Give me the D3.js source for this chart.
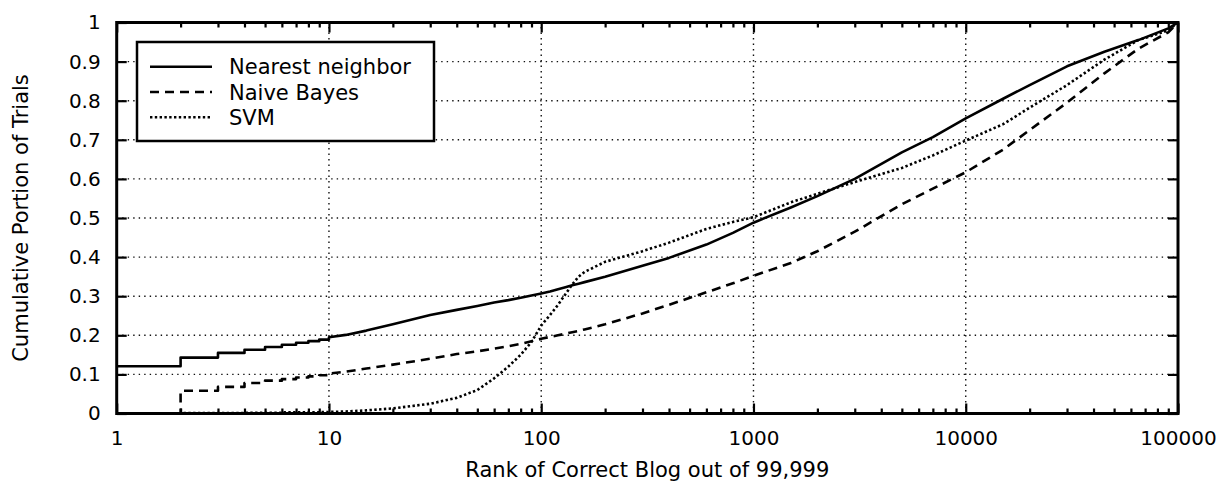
<!DOCTYPE html>
<html>
<head>
<meta charset="utf-8">
<script src="https://cdn.jsdelivr.net/npm/d3@7"></script>
<style>
    body { margin: 0; background: #fff; }
    text { font-family: "DejaVu Sans", sans-serif; fill: #000; }
</style>
</head>
<body>
<div id="chart"></div>
<script>

// ranks 1..10 are drawn as steps, the rest as a plain line
const stepRanks = [1, 2, 3, 4, 5, 6, 7, 8, 9, 10];
const nnStep  = [0.121, 0.143, 0.155, 0.163, 0.170, 0.176, 0.181, 0.185, 0.189, 0.195];
const nbStep  = [0, 0.058, 0.068, 0.078, 0.084, 0.088, 0.092, 0.095, 0.098, 0.102];
const svmStep = [0, 0.001, 0.001, 0.002, 0.002, 0.003, 0.003, 0.003, 0.004, 0.004];

const lineRanks = [10, 12, 15, 20, 30, 40, 50, 60, 70, 80, 90, 100, 110, 120, 130, 140, 150, 160,
    200, 300, 400, 600, 800, 1000, 1500, 2000, 3000, 5000, 7000, 10000, 15000, 20000, 30000,
    45000, 65000, 90000, 99999];
const nnLine = [0.195, 0.201, 0.212, 0.228, 0.252, 0.265, 0.275, 0.284, 0.290, 0.296, 0.302, 0.307,
    0.312, 0.318, 0.323, 0.328, 0.332, 0.336, 0.350, 0.378, 0.398, 0.432, 0.462, 0.488, 0.527,
    0.556, 0.600, 0.668, 0.707, 0.755, 0.805, 0.840, 0.888, 0.925, 0.955, 0.985, 1.0];
const nbLine = [0.102, 0.107, 0.115, 0.125, 0.140, 0.152, 0.159, 0.166, 0.172, 0.178, 0.185, 0.191,
    0.196, 0.200, 0.204, 0.208, 0.211, 0.215, 0.228, 0.256, 0.278, 0.310, 0.333, 0.352, 0.385,
    0.415, 0.465, 0.535, 0.575, 0.617, 0.675, 0.725, 0.795, 0.870, 0.933, 0.975, 1.0];
const svmLine = [0.004, 0.005, 0.008, 0.013, 0.025, 0.040, 0.060, 0.090, 0.120, 0.150, 0.183, 0.225,
    0.252, 0.278, 0.305, 0.330, 0.350, 0.362, 0.388, 0.415, 0.437, 0.472, 0.490, 0.502, 0.540,
    0.562, 0.592, 0.628, 0.660, 0.698, 0.740, 0.782, 0.840, 0.905, 0.955, 0.980, 1.0];

const seriesNames = ["Nearest neighbor", "Naive Bayes", "SVM"];
const seriesDash = [null, "9,6", "2.4,2.4"];

const xTicks = [1, 10, 100, 1000, 10000, 100000];
const xTickLabels = ["1", "10", "100", "1000", "10000", "100000"];
const yTicks = [0, 0.1, 0.2, 0.3, 0.4, 0.5, 0.6, 0.7, 0.8, 0.9, 1];
const yTickLabels = ["0", "0.1", "0.2", "0.3", "0.4", "0.5", "0.6", "0.7", "0.8", "0.9", "1"];

const xTitle = "Rank of Correct Blog out of 99,999";
const yTitle = "Cumulative Portion of Trials";

var width = 1225, height = 487;
var plotLeft = 116.7, plotRight = 1178, plotTop = 22.5, plotBottom = 413.5;
var x, y, svg;

function init() {
    svg = d3.select("#chart").append("svg")
        .attr("width", width)
        .attr("height", height);

    x = d3.scaleLog().domain([1, 100000]).range([plotLeft, plotRight]);
    y = d3.scaleLinear().domain([0, 1]).range([plotBottom, plotTop]);

    drawGrid();
    drawCurves();
    drawLegend();
    drawAxes();
}

function buildPoints(stepVals, lineVals) {
    let pts = [];
    stepRanks.forEach((r, i) => {
        if (i > 0) pts.push([r, stepVals[i - 1]]);  // hold previous value up to this rank
        pts.push([r, stepVals[i]]);
    });
    lineRanks.forEach((r, i) => pts.push([r, lineVals[i]]));
    return pts;
}

function drawGrid() {
    let g = svg.append("g").attr("class", "grid")
        .attr("stroke", "#111")
        .attr("stroke-width", 1.4)
        .attr("stroke-dasharray", "1.4,4.1");

    g.selectAll(".gy")
        .data(yTicks.filter(d => d > 0 && d < 1))
        .join("line")
        .attr("x1", plotLeft).attr("x2", plotRight)
        .attr("y1", d => y(d)).attr("y2", d => y(d));

    g.selectAll(".gx")
        .data(xTicks.filter(d => d > 1 && d < 100000))
        .join("line")
        .attr("x1", d => x(d)).attr("x2", d => x(d))
        .attr("y1", plotBottom).attr("y2", plotTop);
}

function drawCurves() {
    let line = d3.line()
        .x(d => x(d[0]))
        .y(d => y(d[1]));

    let series = [
        buildPoints(nnStep, nnLine),
        buildPoints(nbStep, nbLine),
        buildPoints(svmStep, svmLine)
    ];

    svg.append("g").selectAll("path")
        .data(series)
        .join("path")
        .attr("d", line)
        .attr("fill", "none")
        .attr("stroke", "#000")
        .attr("stroke-width", 2.6)
        .attr("stroke-linejoin", "round")
        .attr("stroke-dasharray", (d, i) => seriesDash[i]);
}

function drawLegend() {
    let g = svg.append("g").attr("class", "legend");

    g.append("rect")
        .attr("x", 137).attr("y", 42)
        .attr("width", 297).attr("height", 99)
        .attr("fill", "#fff")
        .attr("stroke", "#000")
        .attr("stroke-width", 2.5);

    let entry = g.selectAll(".legendEntry")
        .data(seriesNames)
        .join("g")
        .attr("class", "legendEntry")
        .attr("transform", (d, i) => "translate(0," + (66.7 + i * 25.3) + ")");

    entry.append("line")
        .attr("x1", 150).attr("x2", 212)
        .attr("stroke", "#000")
        .attr("stroke-width", 2.6)
        .attr("stroke-dasharray", (d, i) => seriesDash[i]);

    entry.append("text")
        .attr("x", 229)
        .attr("dy", "0.36em")
        .style("font-size", "21px")
        .text(d => d);
}

function drawAxes() {
    let minor = x.ticks().filter(d => xTicks.indexOf(d) < 0);

    // bottom axis with labels
    svg.append("g")
        .attr("transform", "translate(0," + plotBottom + ")")
        .call(d3.axisBottom(x).tickValues(xTicks)
            .tickFormat((d, i) => xTickLabels[i])
            .tickSize(-10).tickPadding(17));
    svg.append("g")
        .attr("transform", "translate(0," + plotBottom + ")")
        .call(d3.axisBottom(x).tickValues(minor).tickFormat("").tickSize(-5));

    // top mirror
    svg.append("g")
        .attr("transform", "translate(0," + plotTop + ")")
        .call(d3.axisTop(x).tickValues(xTicks).tickFormat("").tickSize(-10));
    svg.append("g")
        .attr("transform", "translate(0," + plotTop + ")")
        .call(d3.axisTop(x).tickValues(minor).tickFormat("").tickSize(-5));

    // left axis with labels
    svg.append("g")
        .attr("transform", "translate(" + plotLeft + ",0)")
        .call(d3.axisLeft(y).tickValues(yTicks)
            .tickFormat((d, i) => yTickLabels[i])
            .tickSize(-10).tickPadding(16));

    // right mirror
    svg.append("g")
        .attr("transform", "translate(" + plotRight + ",0)")
        .call(d3.axisRight(y).tickValues(yTicks).tickFormat("").tickSize(-10));

    svg.selectAll(".domain").remove();
    svg.selectAll(".tick line").attr("stroke", "#000").attr("stroke-width", 2.2);
    svg.selectAll(".tick text")
        .style("font-family", "DejaVu Sans")
        .style("font-size", "20px")
        .attr("fill", "#000");

    // frame
    svg.append("rect")
        .attr("x", plotLeft).attr("y", plotTop)
        .attr("width", plotRight - plotLeft).attr("height", plotBottom - plotTop)
        .attr("fill", "none")
        .attr("stroke", "#000")
        .attr("stroke-width", 3);

    svg.append("text")
        .attr("x", (plotLeft + plotRight) / 2)
        .attr("y", 477)
        .attr("text-anchor", "middle")
        .style("font-size", "21px")
        .text(xTitle);

    svg.append("text")
        .attr("transform", "translate(28," + ((plotTop + plotBottom) / 2) + ") rotate(-90)")
        .attr("text-anchor", "middle")
        .style("font-size", "21px")
        .text(yTitle);
}

window.onload = init();
</script>
</body>
</html>
